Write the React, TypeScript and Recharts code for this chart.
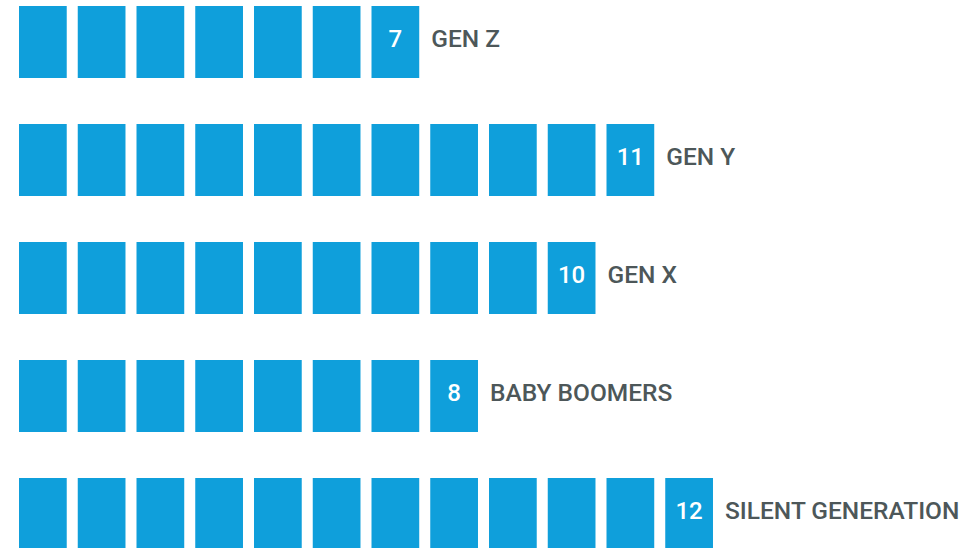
import React from 'react';
import { BarChart, Bar, XAxis, YAxis } from 'recharts';

const categories = ['GEN Z', 'GEN Y', 'GEN X', 'BABY BOOMERS', 'SILENT GENERATION'];
const values = [7, 11, 10, 8, 12];

const data = categories.map((name, i) => ({ name, value: values[i] }));

const BLUE = '#0f9fdb';
const TEXT = '#4d5759';
const FONT = 'Roboto, "Liberation Sans", sans-serif';

const UnitRow = (props: any) => {
  const { x, y, width, height, payload } = props;
  const v = payload.value as number;
  const pitch = width / v;
  const boxW = pitch * 0.8125;
  const boxes = [];
  for (let i = 0; i < v; i++) {
    boxes.push(
      <rect key={i} x={x + i * pitch} y={y} width={boxW} height={height} fill={BLUE} />
    );
  }
  const lastX = x + (v - 1) * pitch;
  const baseY = y + height / 2 + 5;
  return (
    <g>
      {boxes}
      <text
        x={lastX + boxW / 2}
        y={baseY}
        textAnchor="middle"
        fill="#ffffff"
        fontFamily={FONT}
        fontSize={24}
        fontWeight={500}
      >
        {v}
      </text>
      <text
        x={x + width + 1}
        y={baseY}
        textAnchor="start"
        fill={TEXT}
        fontFamily={FONT}
        fontSize={24.5}
        fontWeight={500}
      >
        {payload.name}
      </text>
    </g>
  );
};

export default function App() {
  return (
    <div
      style={{
        position: 'absolute',
        left: 0,
        top: 0,
        width: 976,
        height: 548,
        overflow: 'hidden',
        background: '#ffffff',
      }}
    >
      <div style={{ position: 'absolute', left: 0, top: -17 }}>
        <BarChart
          width={976}
          height={590}
          data={data}
          layout="vertical"
          margin={{ top: 0, right: 17, bottom: 0, left: 19 }}
        >
          <XAxis type="number" domain={[0, 16]} hide />
          <YAxis type="category" dataKey="name" hide />
          <Bar dataKey="value" barSize={72} isAnimationActive={false} shape={UnitRow} />
        </BarChart>
      </div>
    </div>
  );
}
